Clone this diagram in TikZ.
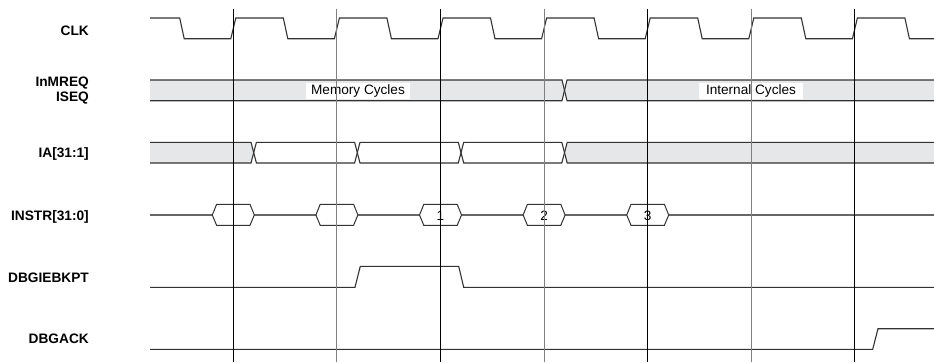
\documentclass[tikz,border=0pt]{standalone}
\usepackage{fontspec}
\setmainfont{Liberation Sans}
\begin{document}
\begin{tikzpicture}[x=1pt,y=-1pt,
  sig/.style={draw=black!80,line width=1.1pt},
  sigb/.style={draw=black!60,line width=1.1pt},
  grid/.style={draw=black,line width=0.9pt},
  gridg/.style={draw=black!50,line width=1pt},
  lbl/.style={anchor=east,font=\bfseries\fontsize{13.7}{15}\selectfont,inner sep=0pt,align=right},
  inlbl/.style={fill=white,inner sep=0pt,minimum width=104pt,minimum height=16pt,font=\fontsize{13.6}{15}\selectfont},
  digit/.style={inner sep=0pt,font=\fontsize{13.6}{15}\selectfont}]
\definecolor{busgray}{HTML}{E6E7E8}
\useasboundingbox (0,0) rectangle (934,362);
% labels
\node[lbl] (clk) at (89,30.5) {CLK};
\node[lbl] (inmreq) at (89,90.5) {InMREQ\\ISEQ};
\node[lbl] (ia) at (89,153.5) {IA[31:1]};
\node[lbl] (instr) at (89,216.5) {INSTR[31:0]};
\node[lbl] (dbgiebkpt) at (89,277.5) {DBGIEBKPT};
\node[lbl] (dbgack) at (89,339) {DBGACK};
% CLK
\draw[sig] (150,18) -- (179.7,18) -- (184.2,38.7)
  foreach \k in {0,...,6}{ -- ({233.3+103.6*\k-2.5},38.7) -- ({233.3+103.6*\k+2.5},18)
  -- ({233.3+103.6*\k+50},18) -- ({233.3+103.6*\k+54.5},38.7)} -- (934,38.7);
% InMREQ / ISEQ bus
\fill[busgray] (150,80) -- (562,80) -- (564.5,90.3) -- (562,100.7) -- (150,100.7) -- cycle;
\fill[busgray] (934,80) -- (567,80) -- (564.5,90.3) -- (567,100.7) -- (934,100.7) -- cycle;
\draw[sig] (150,80) -- (562,80) -- (567,100.7) -- (934,100.7);
\draw[sig] (150,100.7) -- (562,100.7) -- (567,80) -- (934,80);
\node[inlbl] (mem) at (358,91) {Memory Cycles};
\node[inlbl] (int) at (751,91) {Internal Cycles};
% IA bus
\fill[busgray] (150,142.3) -- (251,142.3) -- (253.7,152.7) -- (251,163) -- (150,163) -- cycle;
\fill[busgray] (934,142.3) -- (567.2,142.3) -- (564.5,152.7) -- (567.2,163) -- (934,163) -- cycle;
\draw[sig] (150,142.3) -- (251,142.3) -- (256.4,163) -- (354.6,163) -- (360,142.3) -- (458.3,142.3) -- (463.7,163) -- (561.8,163) -- (567.2,142.3) -- (934,142.3);
\draw[sig] (150,163) -- (251,163) -- (256.4,142.3) -- (354.6,142.3) -- (360,163) -- (458.3,163) -- (463.7,142.3) -- (561.8,142.3) -- (567.2,163) -- (934,163);
% INSTR
\draw[sigb] (150,215) -- (934,215);
\foreach \k/\t/\n in {0//b0,1//b1,2/1/b2,3/2/b3,4/3/b4}{
  \pgfmathsetmacro\c{233.3+103.6*\k}
  \filldraw[fill=white,draw=black!80,line width=1pt] ({\c-21},215) -- ({\c-16.7},204.3) -- ({\c+16.7},204.3) -- ({\c+21},215) -- ({\c+16.7},225.3) -- ({\c-16.7},225.3) -- cycle;
  \node[digit] (\n) at (\c,215.5) {\t};
}
% DBGIEBKPT
\draw[sig] (150,287.3) -- (355,287.3) -- (360.3,266.3) -- (458.7,266.3) -- (463.7,287.3) -- (934,287.3);
% DBGACK
\draw[sig] (150,349.3) -- (872.7,349.3) -- (878,328.7) -- (934,328.7);
% grid lines
\foreach \k in {0,2,4,6}{ \draw[grid] ({233.3+103.6*\k},9) -- ({233.3+103.6*\k},362); }
\foreach \k in {1,3,5}{ \draw[gridg] ({233.3+103.6*\k},9) -- ({233.3+103.6*\k},362); }
\end{tikzpicture}
\end{document}
